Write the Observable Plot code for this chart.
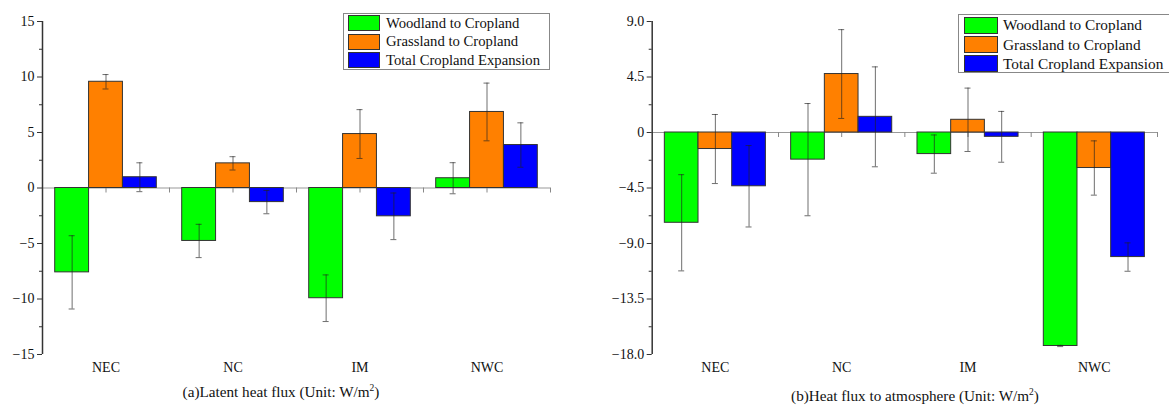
<!DOCTYPE html>
<html><head><meta charset="utf-8">
<script src="https://cdn.jsdelivr.net/npm/d3@7"></script>
<script src="https://cdn.jsdelivr.net/npm/@observablehq/plot@0.6"></script>
<style>
body{margin:0;background:#fff;font-family:"Liberation Serif","Times New Roman",serif;}
#wrap{position:relative;width:1169px;height:405px;overflow:hidden;background:#fff;}
.panel{position:absolute;top:0;}
.legend{position:absolute;box-sizing:border-box;border:1px solid #888;background:#fff;color:#111;white-space:nowrap;}
.row{display:flex;align-items:center;}
.sw{box-sizing:border-box;border:1px solid #333;flex:none;}
.cap{position:absolute;font-size:15.2px;color:#111;white-space:nowrap;transform:translateX(-50%);line-height:16px;}
.cap sup{font-size:9.5px;vertical-align:6px;line-height:0;}
</style></head>
<body>
<div id="wrap"></div>
<script>
// ---- data ----
const regions = ["NEC", "NC", "IM", "NWC"];
const seriesNames = ["Woodland to Cropland", "Grassland to Cropland", "Total Cropland Expansion"];
const seriesColors = ["#00ff00", "#ff8000", "#0000ff"];

// (a) Latent heat flux
const latentWoodland = [-7.6, -4.77, -9.93, 0.88];
const latentWoodlandErr = [3.3, 1.5, 2.1, 1.4];
const latentGrassland = [9.57, 2.22, 4.86, 6.85];
const latentGrasslandErr = [0.65, 0.6, 2.2, 2.6];
const latentTotal = [0.97, -1.27, -2.55, 3.87];
const latentTotalErr = [1.3, 1.05, 2.1, 2.0];
const latentTicks = [-15, -10, -5, 0, 5, 10, 15];
const latentMinor = [-12.5, -7.5, -2.5, 2.5, 7.5, 12.5];

// (b) Heat flux to atmosphere
const heatWoodland = [-7.32, -2.2, -1.75, -17.31];
const heatWoodlandErr = [3.9, 4.55, 1.55, 0.05];
const heatGrassland = [-1.34, 4.74, 1.03, -2.88];
const heatGrasslandErr = [2.8, 3.6, 2.57, 2.2];
const heatTotal = [-4.36, 1.27, -0.35, -10.1];
const heatTotalErr = [3.3, 4.05, 2.06, 1.15];
const heatTicks = [-18, -13.5, -9, -4.5, 0, 4.5, 9];
const heatMinor = [-15.75, -11.25, -6.75, -2.25, 2.25, 6.75];

const captionA = "(a)Latent heat flux (Unit: W/m<sup>2</sup>)";
const captionB = "(b)Heat flux to atmosphere (Unit: W/m<sup>2</sup>)";

// ---- build rows ----
function buildRows(valueArrays, errArrays) {
  const rows = [];
  const groupPad = 0.1, inner = 0.8 / seriesNames.length;
  regions.forEach((r, ri) => {
    seriesNames.forEach((s, si) => {
      const x1 = ri + groupPad + si * inner;
      rows.push({region: r, series: s, value: valueArrays[si][ri], err: errArrays[si][ri],
                 x1, x2: x1 + inner, xc: x1 + inner / 2});
    });
  });
  return rows;
}

const minus = v => (v < 0 ? "\u2212" : "") ;
function makePanel({width, marginLeft, marginRight, yDomain, major, minor, fmt, rows}) {
  const boundaryTicks = [0.5, 1, 1.5, 2, 2.5, 3, 3.5, 4];
  return Plot.plot({
    width, height: 380, marginTop: 21, marginBottom: 26, marginLeft, marginRight,
    style: {fontFamily: "'Liberation Serif', 'Times New Roman', serif", fontSize: "14px", color: "#111", background: "transparent", overflow: "visible"},
    x: {type: "linear", domain: [0, 4], label: null},
    y: {domain: yDomain, label: null},
    color: {domain: seriesNames, range: seriesColors},
    marks: [
      Plot.ruleY([0], {stroke: "#999", strokeWidth: 1}),
      Plot.ruleX(boundaryTicks, {x: d => d, y1: 0, y2: 0, insetBottom: -5, stroke: "#888"}),
      Plot.rectY(rows, {x1: "x1", x2: "x2", y1: 0, y2: "value", fill: "series", stroke: "#333", strokeWidth: 1}),
      Plot.ruleX(rows, {x: "xc", y1: d => d.value - d.err, y2: d => d.value + d.err, stroke: "#222", strokeOpacity: 0.65}),
      Plot.ruleY(rows, {y: d => d.value - d.err, x1: "xc", x2: "xc", insetLeft: -3, insetRight: -3, stroke: "#222", strokeOpacity: 0.65}),
      Plot.ruleY(rows, {y: d => d.value + d.err, x1: "xc", x2: "xc", insetLeft: -3, insetRight: -3, stroke: "#222", strokeOpacity: 0.65}),
      Plot.ruleY(minor, {y: d => d, x1: 0, x2: 0, insetLeft: -3, stroke: "#333"}),
      Plot.ruleX([0], {stroke: "#333", strokeWidth: 1.5}),
      Plot.axisY({ticks: major, tickSize: 5, tickPadding: 3, tickFormat: fmt, stroke: "#333", label: null}),
      Plot.axisX({ticks: [0.5, 1.5, 2.5, 3.5], tickSize: 0, tickPadding: 8, tickFormat: d => regions[Math.floor(d)], label: null})
    ]
  });
}

const wrap = document.getElementById("wrap");

const rowsA = buildRows([latentWoodland, latentGrassland, latentTotal], [latentWoodlandErr, latentGrasslandErr, latentTotalErr]);
const rowsB = buildRows([heatWoodland, heatGrassland, heatTotal], [heatWoodlandErr, heatGrasslandErr, heatTotalErr]);

const plotA = makePanel({width: 584, marginLeft: 42, marginRight: 34, yDomain: [-15, 15], major: latentTicks, minor: latentMinor,
  fmt: d => minus(d) + Math.abs(d), rows: rowsA});
const plotB = makePanel({width: 585, marginLeft: 67.7, marginRight: 12, yDomain: [-18, 9], major: heatTicks, minor: heatMinor,
  fmt: d => d === 0 ? "0" : minus(d) + Math.abs(d).toFixed(1), rows: rowsB});

function place(el, left) {
  const d = document.createElement("div");
  d.className = "panel"; d.style.left = left + "px";
  d.appendChild(el); wrap.appendChild(d);
}
place(plotA, 0);
place(plotB, 584);

function legend({left, top, width, height, pitch, swW, swH, padL, gap, fontSize, padT}) {
  const box = document.createElement("div");
  box.className = "legend";
  Object.assign(box.style, {left: left + "px", top: top + "px", width: width + "px", height: height + "px",
    paddingLeft: padL + "px", paddingTop: padT + "px", fontSize: fontSize + "px"});
  seriesNames.forEach((s, i) => {
    const row = document.createElement("div");
    row.className = "row"; row.style.height = pitch + "px";
    const sw = document.createElement("div");
    sw.className = "sw";
    Object.assign(sw.style, {width: swW + "px", height: swH + "px", background: seriesColors[i], marginRight: gap + "px"});
    const t = document.createElement("span");
    t.textContent = s;
    row.appendChild(sw); row.appendChild(t);
    box.appendChild(row);
  });
  wrap.appendChild(box);
}
legend({left: 343, top: 12.7, width: 207, height: 57, pitch: 18.5, swW: 32, swH: 16, padL: 4, gap: 6, fontSize: 14.7, padT: 0.5});
legend({left: 958, top: 14.3, width: 214, height: 59, pitch: 19.2, swW: 34, swH: 17, padL: 5, gap: 5, fontSize: 15.3, padT: 0.5});

function caption(html, cx, top) {
  const c = document.createElement("div");
  c.className = "cap"; c.innerHTML = html;
  c.style.left = cx + "px"; c.style.top = top + "px";
  wrap.appendChild(c);
}
caption(captionA, 281, 384);
caption(captionB, 915, 388);
</script>
</body></html>
